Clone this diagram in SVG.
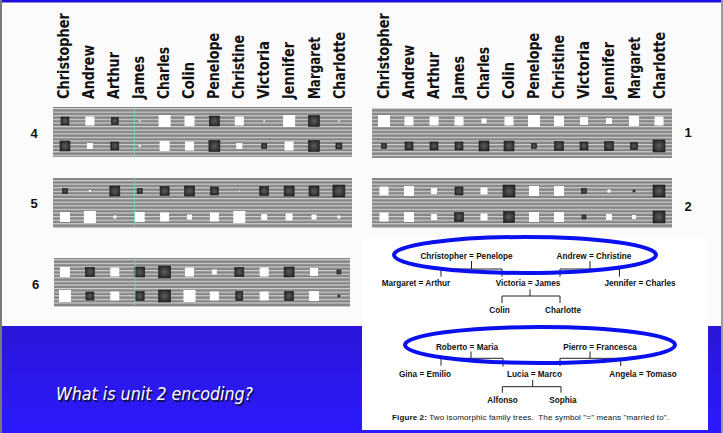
<svg xmlns="http://www.w3.org/2000/svg" width="723" height="433" viewBox="0 0 723 433">
<style>
.nm{font-family:"DejaVu Sans",sans-serif;font-weight:bold;font-size:15px;fill:#111}
.num{font-family:"Liberation Sans",Arial,sans-serif;font-weight:bold;font-size:13px;fill:#111;text-anchor:middle}
.ft{font-family:"Liberation Sans",Arial,sans-serif;font-weight:bold;font-size:8.2px;fill:#111;text-anchor:middle}
.cap{font-family:"Liberation Sans",Arial,sans-serif;font-size:8px;fill:#111}
.w{fill:#fff}
.k{fill:url(#dk);stroke:#1c1c1c;stroke-width:0.6}
.panel{fill:url(#stripes)}
.conn{fill:none;stroke:#222;stroke-width:1}
.ring{fill:none;stroke:#0b10ee;stroke-width:4}
.q{font-family:"DejaVu Sans",sans-serif;font-style:italic;font-size:17px}
</style>
<defs>
<pattern id="stripes" patternUnits="userSpaceOnUse" width="10" height="3.6">
<rect width="10" height="3.6" fill="#858585"/>
<rect y="0" width="10" height="1.2" fill="#d0d0d0"/>
</pattern>
<radialGradient id="dk" cx="0.5" cy="0.5" r="0.6">
<stop offset="0" stop-color="#5c5c5c"/>
<stop offset="1" stop-color="#242424"/>
</radialGradient>
<linearGradient id="bl" x1="0" y1="0" x2="0" y2="1">
<stop offset="0" stop-color="#2a16d8"/>
<stop offset="1" stop-color="#2c1aff"/>
</linearGradient>
</defs>

<!-- background -->
<rect width="723" height="433" fill="#fbfbfb"/>
<rect x="0" y="326" width="723" height="107" fill="url(#bl)"/>
<rect x="362" y="238" width="346" height="192" fill="#ffffff"/>
<rect x="0" y="0" width="723" height="2.5" fill="#2010e0"/>
<rect x="0" y="0" width="2" height="433" fill="#7a7a7a"/>
<rect x="721" y="0" width="2" height="433" fill="#9a9a9a"/>

<!-- names left -->
<g id="names-left">
<text class="nm" transform="translate(68.5,99) rotate(-90)" textLength="86" lengthAdjust="spacingAndGlyphs">Christopher</text>
<text class="nm" transform="translate(93.6,99) rotate(-90)" textLength="54" lengthAdjust="spacingAndGlyphs">Andrew</text>
<text class="nm" transform="translate(118.7,99) rotate(-90)" textLength="47" lengthAdjust="spacingAndGlyphs">Arthur</text>
<text class="nm" transform="translate(143.8,99) rotate(-90)" textLength="43" lengthAdjust="spacingAndGlyphs">James</text>
<text class="nm" transform="translate(168.9,99) rotate(-90)" textLength="52" lengthAdjust="spacingAndGlyphs">Charles</text>
<text class="nm" transform="translate(194,99) rotate(-90)" textLength="37" lengthAdjust="spacingAndGlyphs">Colin</text>
<text class="nm" transform="translate(219.1,99) rotate(-90)" textLength="66" lengthAdjust="spacingAndGlyphs">Penelope</text>
<text class="nm" transform="translate(244.2,99) rotate(-90)" textLength="64" lengthAdjust="spacingAndGlyphs">Christine</text>
<text class="nm" transform="translate(269.3,99) rotate(-90)" textLength="58" lengthAdjust="spacingAndGlyphs">Victoria</text>
<text class="nm" transform="translate(294.4,99) rotate(-90)" textLength="57" lengthAdjust="spacingAndGlyphs">Jennifer</text>
<text class="nm" transform="translate(319.5,99) rotate(-90)" textLength="62" lengthAdjust="spacingAndGlyphs">Margaret</text>
<text class="nm" transform="translate(344.6,99) rotate(-90)" textLength="67" lengthAdjust="spacingAndGlyphs">Charlotte</text>
</g>
<!-- names right -->
<g id="names-right">
<text class="nm" transform="translate(388.5,99) rotate(-90)" textLength="86" lengthAdjust="spacingAndGlyphs">Christopher</text>
<text class="nm" transform="translate(413.6,99) rotate(-90)" textLength="54" lengthAdjust="spacingAndGlyphs">Andrew</text>
<text class="nm" transform="translate(438.7,99) rotate(-90)" textLength="47" lengthAdjust="spacingAndGlyphs">Arthur</text>
<text class="nm" transform="translate(463.8,99) rotate(-90)" textLength="43" lengthAdjust="spacingAndGlyphs">James</text>
<text class="nm" transform="translate(488.9,99) rotate(-90)" textLength="52" lengthAdjust="spacingAndGlyphs">Charles</text>
<text class="nm" transform="translate(514,99) rotate(-90)" textLength="37" lengthAdjust="spacingAndGlyphs">Colin</text>
<text class="nm" transform="translate(539.1,99) rotate(-90)" textLength="66" lengthAdjust="spacingAndGlyphs">Penelope</text>
<text class="nm" transform="translate(564.2,99) rotate(-90)" textLength="64" lengthAdjust="spacingAndGlyphs">Christine</text>
<text class="nm" transform="translate(589.3,99) rotate(-90)" textLength="58" lengthAdjust="spacingAndGlyphs">Victoria</text>
<text class="nm" transform="translate(614.4,99) rotate(-90)" textLength="57" lengthAdjust="spacingAndGlyphs">Jennifer</text>
<text class="nm" transform="translate(639.5,99) rotate(-90)" textLength="62" lengthAdjust="spacingAndGlyphs">Margaret</text>
<text class="nm" transform="translate(664.6,99) rotate(-90)" textLength="67" lengthAdjust="spacingAndGlyphs">Charlotte</text>
</g>

<!-- unit 4 -->
<g id="unit4">
<rect class="panel" x="53" y="107" width="299" height="50"/>
<text class="num" x="34" y="138.3">4</text>
<rect class="k" x="61" y="117" width="8" height="8"/>
<rect class="w" x="85.4" y="116.5" width="9" height="9"/>
<rect class="k" x="111.3" y="117.5" width="7" height="7"/>
<rect class="w" x="139" y="120.3" width="1.5" height="1.5"/>
<rect class="w" x="158.6" y="115" width="12" height="12"/>
<rect class="w" x="184.5" y="116" width="10" height="10"/>
<rect class="k" x="209.4" y="116" width="10" height="10"/>
<rect class="w" x="234.8" y="116.5" width="9" height="9"/>
<rect class="w" x="263.5" y="120.3" width="1.5" height="1.5"/>
<rect class="w" x="283.1" y="115" width="12" height="12"/>
<rect class="k" x="308.5" y="115.5" width="11" height="11"/>
<rect class="w" x="338.2" y="120.3" width="1.5" height="1.5"/>
<rect class="k" x="60" y="141" width="10" height="10"/>
<rect class="w" x="86.9" y="143" width="6" height="6"/>
<rect class="k" x="110.8" y="142" width="8" height="8"/>
<rect class="w" x="138.7" y="145" width="2" height="2"/>
<rect class="w" x="159.6" y="141" width="10" height="10"/>
<rect class="w" x="185" y="141.5" width="9" height="9"/>
<rect class="k" x="208.9" y="140.5" width="11" height="11"/>
<rect class="w" x="236.3" y="143" width="6" height="6"/>
<rect class="k" x="261.7" y="143.5" width="5" height="5"/>
<rect class="w" x="284.6" y="141.5" width="9" height="9"/>
<rect class="k" x="308.5" y="140.5" width="11" height="11"/>
<rect class="k" x="335.9" y="143" width="6" height="6"/>
</g>

<!-- unit 5 -->
<g id="unit5">
<rect class="panel" x="53" y="178" width="299" height="50"/>
<text class="num" x="34" y="208.3">5</text>
<rect class="k" x="62.5" y="188.5" width="5" height="5"/>
<rect class="w" x="88.9" y="190" width="2" height="2"/>
<rect class="k" x="109.8" y="186" width="10" height="10"/>
<rect class="k" x="137.2" y="188.5" width="5" height="5"/>
<rect class="k" x="160.1" y="186.5" width="9" height="9"/>
<rect class="k" x="184.5" y="186" width="10" height="10"/>
<rect class="k" x="210.4" y="187" width="8" height="8"/>
<rect class="w" x="238.8" y="190.5" width="1" height="1"/>
<rect class="k" x="259.7" y="186.5" width="9" height="9"/>
<rect class="k" x="284.1" y="186" width="10" height="10"/>
<rect class="k" x="309" y="186" width="10" height="10"/>
<rect class="k" x="332.9" y="185" width="12" height="12"/>
<rect class="w" x="60" y="212" width="10" height="10"/>
<rect class="w" x="83.9" y="211" width="12" height="12"/>
<rect class="w" x="113.3" y="215.5" width="3" height="3"/>
<rect class="w" x="134.7" y="212" width="10" height="10"/>
<rect class="w" x="160.1" y="212.5" width="9" height="9"/>
<rect class="w" x="187" y="214.5" width="5" height="5"/>
<rect class="w" x="209.9" y="212.5" width="9" height="9"/>
<rect class="w" x="233.3" y="211" width="12" height="12"/>
<rect class="w" x="261.2" y="214" width="6" height="6"/>
<rect class="w" x="285.6" y="213.5" width="7" height="7"/>
<rect class="w" x="311.5" y="214.5" width="5" height="5"/>
<rect class="w" x="337.4" y="215.5" width="3" height="3"/>
</g>

<!-- unit 6 -->
<g id="unit6">
<rect class="panel" x="54" y="258" width="296" height="49"/>
<text class="num" x="35.5" y="289">6</text>
<rect class="w" x="60" y="267" width="10" height="10"/>
<rect class="k" x="85.4" y="267.5" width="9" height="9"/>
<rect class="w" x="110.3" y="267.5" width="9" height="9"/>
<rect class="k" x="134.7" y="267" width="10" height="10"/>
<rect class="k" x="158.6" y="266" width="12" height="12"/>
<rect class="w" x="185" y="267.5" width="9" height="9"/>
<rect class="w" x="211.9" y="269.5" width="5" height="5"/>
<rect class="k" x="234.8" y="267.5" width="9" height="9"/>
<rect class="w" x="259.7" y="267.5" width="9" height="9"/>
<rect class="k" x="284.1" y="267" width="10" height="10"/>
<rect class="w" x="310" y="268" width="8" height="8"/>
<rect class="k" x="336.9" y="270" width="4" height="4"/>
<rect class="w" x="59" y="290" width="12" height="12"/>
<rect class="k" x="85.9" y="292" width="8" height="8"/>
<rect class="w" x="110.3" y="291.5" width="9" height="9"/>
<rect class="k" x="135.2" y="291.5" width="9" height="9"/>
<rect class="k" x="158.6" y="290" width="12" height="12"/>
<rect class="w" x="183.5" y="290" width="12" height="12"/>
<rect class="w" x="209.9" y="291.5" width="9" height="9"/>
<rect class="k" x="235.8" y="291.5" width="7" height="9"/>
<rect class="w" x="259.7" y="291.5" width="9" height="9"/>
<rect class="k" x="284.6" y="291.5" width="9" height="9"/>
<rect class="w" x="309" y="291" width="10" height="10"/>
<rect class="k" x="337.9" y="295" width="2" height="2"/>
</g>

<!-- scan line -->
<g stroke="#7fd6b0" stroke-width="0.8">
<line x1="134.5" y1="107" x2="134.5" y2="157"/>
<line x1="134.5" y1="178" x2="134.5" y2="228"/>
<line x1="135" y1="258" x2="135" y2="307"/>
</g>

<!-- unit 1 -->
<g id="unit1">
<rect class="panel" x="372" y="108" width="300" height="50"/>
<text class="num" x="688" y="136.7">1</text>
<rect class="w" x="378" y="115" width="12" height="12"/>
<rect class="w" x="404.5" y="116.5" width="9" height="9"/>
<rect class="w" x="429.5" y="116.5" width="9" height="9"/>
<rect class="w" x="454.5" y="116.5" width="9" height="9"/>
<rect class="w" x="481.5" y="118.5" width="5" height="5"/>
<rect class="w" x="504.5" y="116.5" width="9" height="9"/>
<rect class="w" x="528" y="115" width="12" height="12"/>
<rect class="w" x="554" y="116" width="10" height="10"/>
<rect class="w" x="580" y="117" width="8" height="8"/>
<rect class="w" x="606" y="118" width="6" height="6"/>
<rect class="w" x="629" y="116" width="10" height="10"/>
<rect class="w" x="654.5" y="116.5" width="9" height="9"/>
<rect class="k" x="381.5" y="143.5" width="5" height="5"/>
<rect class="k" x="405" y="142" width="8" height="8"/>
<rect class="k" x="430" y="142" width="8" height="8"/>
<rect class="k" x="455" y="142" width="8" height="8"/>
<rect class="k" x="479" y="141" width="10" height="10"/>
<rect class="k" x="504" y="141" width="10" height="10"/>
<rect class="k" x="531.5" y="143.5" width="5" height="5"/>
<rect class="k" x="554.5" y="141.5" width="9" height="9"/>
<rect class="k" x="580" y="142" width="8" height="8"/>
<rect class="k" x="604.5" y="141.5" width="9" height="9"/>
<rect class="k" x="630.5" y="142.5" width="7" height="7"/>
<rect class="k" x="653" y="140" width="12" height="12"/>
</g>

<!-- unit 2 -->
<g id="unit2">
<rect class="panel" x="372" y="178" width="300" height="50"/>
<text class="num" x="688" y="210.7">2</text>
<rect class="w" x="379.5" y="186.5" width="9" height="9"/>
<rect class="w" x="404" y="186" width="10" height="10"/>
<rect class="w" x="431" y="188" width="6" height="6"/>
<rect class="k" x="455" y="187" width="8" height="8"/>
<rect class="w" x="480.5" y="187.5" width="7" height="7"/>
<rect class="k" x="503" y="185" width="12" height="12"/>
<rect class="w" x="529" y="186" width="10" height="10"/>
<rect class="w" x="554" y="186" width="10" height="10"/>
<rect class="k" x="581.5" y="188.5" width="5" height="5"/>
<rect class="w" x="607.5" y="189.5" width="3" height="3"/>
<rect class="k" x="633" y="190" width="2" height="2"/>
<rect class="k" x="653" y="185" width="12" height="12"/>
<rect class="w" x="379.5" y="212.5" width="9" height="9"/>
<rect class="w" x="404" y="212" width="10" height="10"/>
<rect class="w" x="431" y="214" width="6" height="6"/>
<rect class="k" x="454.5" y="212.5" width="9" height="9"/>
<rect class="w" x="480.5" y="213.5" width="7" height="7"/>
<rect class="k" x="503.5" y="211.5" width="11" height="11"/>
<rect class="w" x="529" y="212" width="10" height="10"/>
<rect class="w" x="554" y="212" width="10" height="10"/>
<rect class="k" x="582" y="215" width="4" height="4"/>
<rect class="w" x="606" y="214" width="6" height="6"/>
<rect class="w" x="632" y="215" width="4" height="4"/>
<rect class="k" x="653" y="211" width="12" height="12"/>
</g>

<!-- family tree connectors -->
<g id="connectors" class="conn">
<path d="M471.5,261 V269 M441,276.7 V269 H502 V276.7"/>
<path d="M590,261 V269 M560,276.7 V269 H619.5 V276.7"/>
<path d="M530,289.5 V296 M502,303 V296 H560 V303"/>
<path d="M471,351.5 V358.3 M441,365.7 V358.3 H503 V366.5"/>
<path d="M590,351.5 V358.3 M560,366 V358.3 H620.7 V366"/>
<path d="M532.7,380 V386.7 M502.3,392.7 V386.7 H561 V392.7"/>
</g>

<!-- family tree 1 -->
<g id="tree1">
<g id="n-christopher-penelope"><text class="ft" x="466.5" y="258.5">Christopher = Penelope</text></g>
<g id="n-andrew-christine"><text class="ft" x="594" y="258.5">Andrew = Christine</text></g>
<g id="n-margaret-arthur"><text class="ft" x="416" y="285.5">Margaret = Arthur</text></g>
<g id="n-victoria-james"><text class="ft" x="528" y="285.5">Victoria = James</text></g>
<g id="n-jennifer-charles"><text class="ft" x="640" y="285.5">Jennifer = Charles</text></g>
<g id="n-colin"><text class="ft" x="499.5" y="312.5">Colin</text></g>
<g id="n-charlotte"><text class="ft" x="563" y="312.5">Charlotte</text></g>
</g>
<!-- family tree 2 -->
<g id="tree2">
<g id="n-roberto-maria"><text class="ft" x="467" y="350">Roberto = Maria</text></g>
<g id="n-pierro-francesca"><text class="ft" x="600" y="350">Pierro = Francesca</text></g>
<g id="n-gina-emilio"><text class="ft" x="425" y="377">Gina = Emilio</text></g>
<g id="n-lucia-marco"><text class="ft" x="534.5" y="377">Lucia = Marco</text></g>
<g id="n-angela-tomaso"><text class="ft" x="643" y="377">Angela = Tomaso</text></g>
<g id="n-alfonso"><text class="ft" x="502.5" y="403">Alfonso</text></g>
<g id="n-sophia"><text class="ft" x="563" y="403">Sophia</text></g>
</g>
<text class="cap" x="392" y="419.5" xml:space="preserve" textLength="277" lengthAdjust="spacing"><tspan font-weight="bold">Figure 2:</tspan> Two isomorphic family trees.  The symbol "=" means "married to".</text>

<!-- rings -->
<ellipse class="ring" cx="525" cy="255" rx="131" ry="18"/>
<ellipse class="ring" cx="540" cy="345" rx="135" ry="18"/>

<!-- question -->
<text class="q" x="57.5" y="401.5" fill="#101030" textLength="197" lengthAdjust="spacingAndGlyphs">What is unit 2 encoding?</text>
<text class="q" x="56" y="400" fill="#ffffff" textLength="197" lengthAdjust="spacingAndGlyphs">What is unit 2 encoding?</text>
</svg>
